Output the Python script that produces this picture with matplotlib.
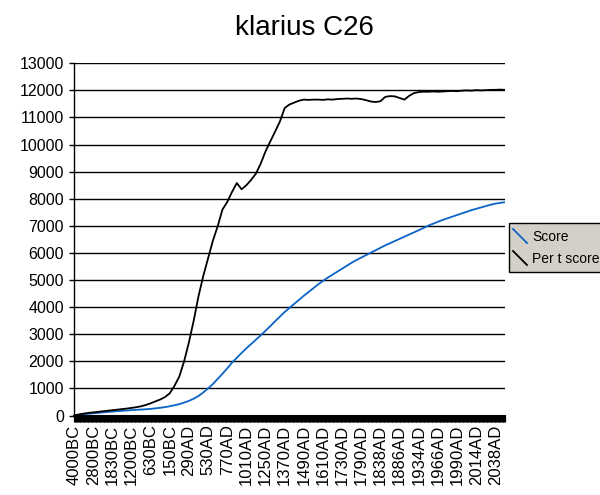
import numpy as np
import matplotlib
matplotlib.use('Agg')
from matplotlib import pyplot as plt
from matplotlib.patches import Rectangle
from matplotlib.lines import Line2D
from matplotlib.ticker import MultipleLocator

plt.rcParams['font.family'] = ['Liberation Sans', 'DejaVu Sans']

# one value every 6 turns, turn 0 .. 540
step = 6
score = [
    0, 25, 45, 65, 80, 95, 115, 130, 145, 160,
    172, 185, 198, 210, 220, 230, 245, 265, 285, 310,
    340, 380, 420, 475, 540, 620, 720, 850, 1000, 1160,
    1350, 1540, 1740, 1950, 2130, 2310, 2480, 2640, 2800, 2960,
    3130, 3300, 3480, 3650, 3820, 3974, 4120, 4270, 4420, 4560,
    4700, 4840, 4970, 5090, 5200, 5310, 5420, 5530, 5640, 5740,
    5830, 5920, 6010, 6100, 6190, 6280, 6360, 6440, 6520, 6600,
    6680, 6760, 6840, 6920, 7010, 7080, 7150, 7220, 7280, 7340,
    7400, 7460, 7520, 7580, 7630, 7680, 7730, 7780, 7820, 7850,
    7871,
]
per_t_score = [
    0, 40, 70, 95, 115, 135, 155, 175, 195, 215,
    235, 255, 280, 305, 340, 390, 450, 520, 590, 680,
    820, 1100, 1440, 2000, 2700, 3500, 4400, 5150, 5800, 6450,
    6980, 7600, 7880, 8250, 8580, 8350, 8500, 8700, 8930, 9300,
    9750, 10120, 10480, 10850, 11350, 11480, 11550, 11620, 11660, 11650,
    11660, 11660, 11650, 11670, 11660, 11680, 11690, 11700, 11690, 11700,
    11680, 11640, 11590, 11570, 11600, 11760, 11790, 11780, 11720, 11660,
    11800, 11900, 11940, 11950, 11950, 11960, 11950, 11960, 11970, 11980,
    11970, 11990, 12000, 11990, 12010, 12000, 12010, 12020, 12020, 12030,
    12020,
]
year_labels = ['4000BC', '2800BC', '1830BC', '1200BC', '630BC', '150BC',
               '290AD', '530AD', '770AD', '1010AD', '1250AD', '1370AD',
               '1490AD', '1610AD', '1730AD', '1790AD', '1838AD', '1886AD',
               '1934AD', '1966AD', '1990AD', '2014AD', '2038AD']
label_every = 24
n_turns = 540

turns = np.arange(len(score)) * step

fig = plt.figure(figsize=(6, 4.95), dpi=100)
ax = fig.add_axes([0.1233, 0.1606, 0.7183, 0.7115])

ax.plot(turns, score, color='#0a64c8', lw=1.3, label='Score')
ax.plot(turns, per_t_score, color='black', lw=1.3, label='Per t score')

ax.set_xlim(0, n_turns)
ax.set_ylim(0, 13000)
ax.set_yticks(np.arange(0, 13001, 1000))
ax.yaxis.grid(True, color='black', lw=1)
ax.set_axisbelow(True)

ax.set_xticks(np.arange(len(year_labels)) * label_every)
ax.set_xticklabels(year_labels, rotation=90)
ax.xaxis.set_minor_locator(MultipleLocator(1))
ax.tick_params(axis='x', which='both', direction='out', length=4.5, width=0.9, pad=2, labelsize=12)
ax.tick_params(axis='y', direction='out', length=3.6, width=1, pad=3.6, labelsize=11.5)

for s in ['top', 'right']:
    ax.spines[s].set_visible(False)
ax.spines['left'].set_linewidth(1)
ax.spines['bottom'].set_linewidth(1.5)

fig.text(0.507, 0.929, 'klarius C26', fontsize=20, ha='center', va='baseline')

# legend box (runs past the right edge, like the original)
W, H = 600.0, 495.0
def fx(px):
    return px / W
def fy(py):
    return 1 - py / H

fig.add_artist(Rectangle((fx(509), fy(272)), fx(120), (272 - 223) / H,
                         transform=fig.transFigure, facecolor='#d4d0c8',
                         edgecolor='black', lw=1))
fig.add_artist(Line2D([fx(513), fx(527)], [fy(229), fy(243)], transform=fig.transFigure,
                      color='#0a64c8', lw=1.3))
fig.add_artist(Line2D([fx(513), fx(527)], [fy(251), fy(265)], transform=fig.transFigure,
                      color='black', lw=1.3))
fig.text(fx(532), fy(237), 'Score', fontsize=10, va='center')
fig.text(fx(532), fy(259), 'Per t score', fontsize=10, va='center')

fig.savefig('out.png', dpi=100, facecolor='white')
